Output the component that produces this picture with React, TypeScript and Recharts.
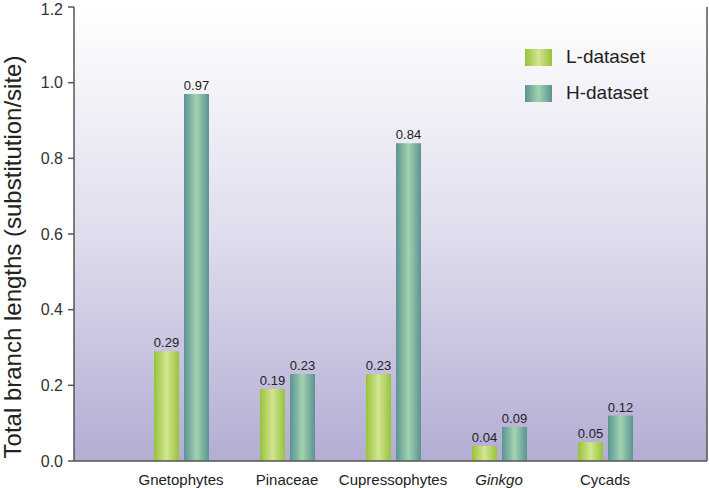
import React from 'react';
import {
  BarChart,
  Bar,
  XAxis,
  YAxis,
  CartesianGrid,
  LabelList,
} from 'recharts';

const groups = ['Gnetophytes', 'Pinaceae', 'Cupressophytes', 'Ginkgo', 'Cycads'];
const lDataset = [0.29, 0.19, 0.23, 0.04, 0.05];
const hDataset = [0.97, 0.23, 0.84, 0.09, 0.12];
const yTicks = [0, 0.2, 0.4, 0.6, 0.8, 1.0, 1.2];

const data = groups.map((name, i) => ({ name, L: lDataset[i], H: hDataset[i] }));

const FONT = '"Liberation Sans", Arial, sans-serif';
const AXIS = '#555';

function GroupTick(props: any) {
  const { x, y, payload } = props;
  return (
    <text
      x={x}
      y={y + 5}
      dy="0.71em"
      textAnchor="middle"
      fill="#222"
      fontSize={15}
      fontFamily={FONT}
      fontStyle={payload.value === 'Ginkgo' ? 'italic' : 'normal'}
    >
      {payload.value}
    </text>
  );
}

// y title drawn at a fixed spot, it sits a bit lower than the plot centre
function YTitle() {
  return (
    <text
      x={21}
      y={257}
      transform="rotate(-90, 21, 257)"
      textAnchor="middle"
      fill="#222"
      fontSize={24}
      fontFamily={FONT}
    >
      Total branch lengths (substitution/site)
    </text>
  );
}

function LegendRow({ label, fill }: { label: string; fill: string }) {
  return (
    <div style={{ display: 'flex', alignItems: 'center', height: 36 }}>
      <div style={{ width: 27, height: 17, background: fill }} />
      <span style={{ marginLeft: 14, fontSize: 19, color: '#222', fontFamily: FONT }}>{label}</span>
    </div>
  );
}

export default function App() {
  return (
    <div style={{ position: 'fixed', left: 0, top: 0, width: 709, height: 488, background: '#fff' }}>
      <BarChart
        width={709}
        height={488}
        data={data}
        margin={{ top: 7, right: 0, bottom: 0, left: 0 }}
        barSize={25}
        barGap={5}
      >
        <defs>
          <linearGradient id="bg" x1="0" y1="0" x2="0" y2="1">
            <stop offset="0%" stopColor="#ffffff" />
            <stop offset="50%" stopColor="#e0dded" />
            <stop offset="100%" stopColor="#b3add3" />
          </linearGradient>
          <linearGradient id="gL" x1="0" y1="0" x2="1" y2="0">
            <stop offset="0%" stopColor="#98c23a" />
            <stop offset="50%" stopColor="#d2e591" />
            <stop offset="100%" stopColor="#98c23a" />
          </linearGradient>
          <linearGradient id="gH" x1="0" y1="0" x2="1" y2="0">
            <stop offset="0%" stopColor="#5a9393" />
            <stop offset="50%" stopColor="#a2d3b0" />
            <stop offset="100%" stopColor="#5a9393" />
          </linearGradient>
        </defs>
        <CartesianGrid horizontal={false} vertical={false} fill="url(#bg)" />
        <XAxis
          dataKey="name"
          height={27}
          padding={{ left: 54, right: 49 }}
          tickLine={false}
          axisLine={{ stroke: AXIS, strokeWidth: 1.5 }}
          tick={<GroupTick />}
          interval={0}
        />
        <XAxis
          xAxisId="top"
          orientation="top"
          dataKey="name"
          height={0}
          padding={{ left: 54, right: 49 }}
          tick={false}
          tickLine={false}
          axisLine={{ stroke: AXIS, strokeWidth: 1.5 }}
        />
        <YAxis
          width={74}
          domain={[0, 1.2]}
          ticks={yTicks}
          tickFormatter={(v: number) => v.toFixed(1)}
          tickSize={6}
          tickMargin={5}
          tickLine={{ stroke: AXIS, strokeWidth: 1.5 }}
          axisLine={{ stroke: AXIS, strokeWidth: 1.5 }}
          tick={{ fill: '#333', fontSize: 16, fontFamily: FONT }}
          label={{ content: () => <YTitle /> }}
        />
        <YAxis
          yAxisId="right"
          orientation="right"
          width={2}
          domain={[0, 1.2]}
          ticks={yTicks}
          tick={false}
          tickLine={false}
          axisLine={{ stroke: AXIS, strokeWidth: 1.5 }}
        />
        <Bar dataKey="L" fill="url(#gL)" isAnimationActive={false}>
          <LabelList
            dataKey="L"
            position="top"
            offset={4}
            formatter={(v: any) => Number(v).toFixed(2)}
            style={{ fill: '#222', fontSize: 13, fontFamily: FONT }}
          />
        </Bar>
        <Bar dataKey="H" fill="url(#gH)" isAnimationActive={false}>
          <LabelList
            dataKey="H"
            position="top"
            offset={4}
            formatter={(v: any) => Number(v).toFixed(2)}
            style={{ fill: '#222', fontSize: 13, fontFamily: FONT }}
          />
        </Bar>
      </BarChart>
      <div style={{ position: 'absolute', left: 525, top: 39 }}>
        <LegendRow label="L-dataset" fill="linear-gradient(to right, #98c23a, #d2e591, #98c23a)" />
        <LegendRow label="H-dataset" fill="linear-gradient(to right, #5a9393, #a2d3b0, #5a9393)" />
      </div>
    </div>
  );
}
